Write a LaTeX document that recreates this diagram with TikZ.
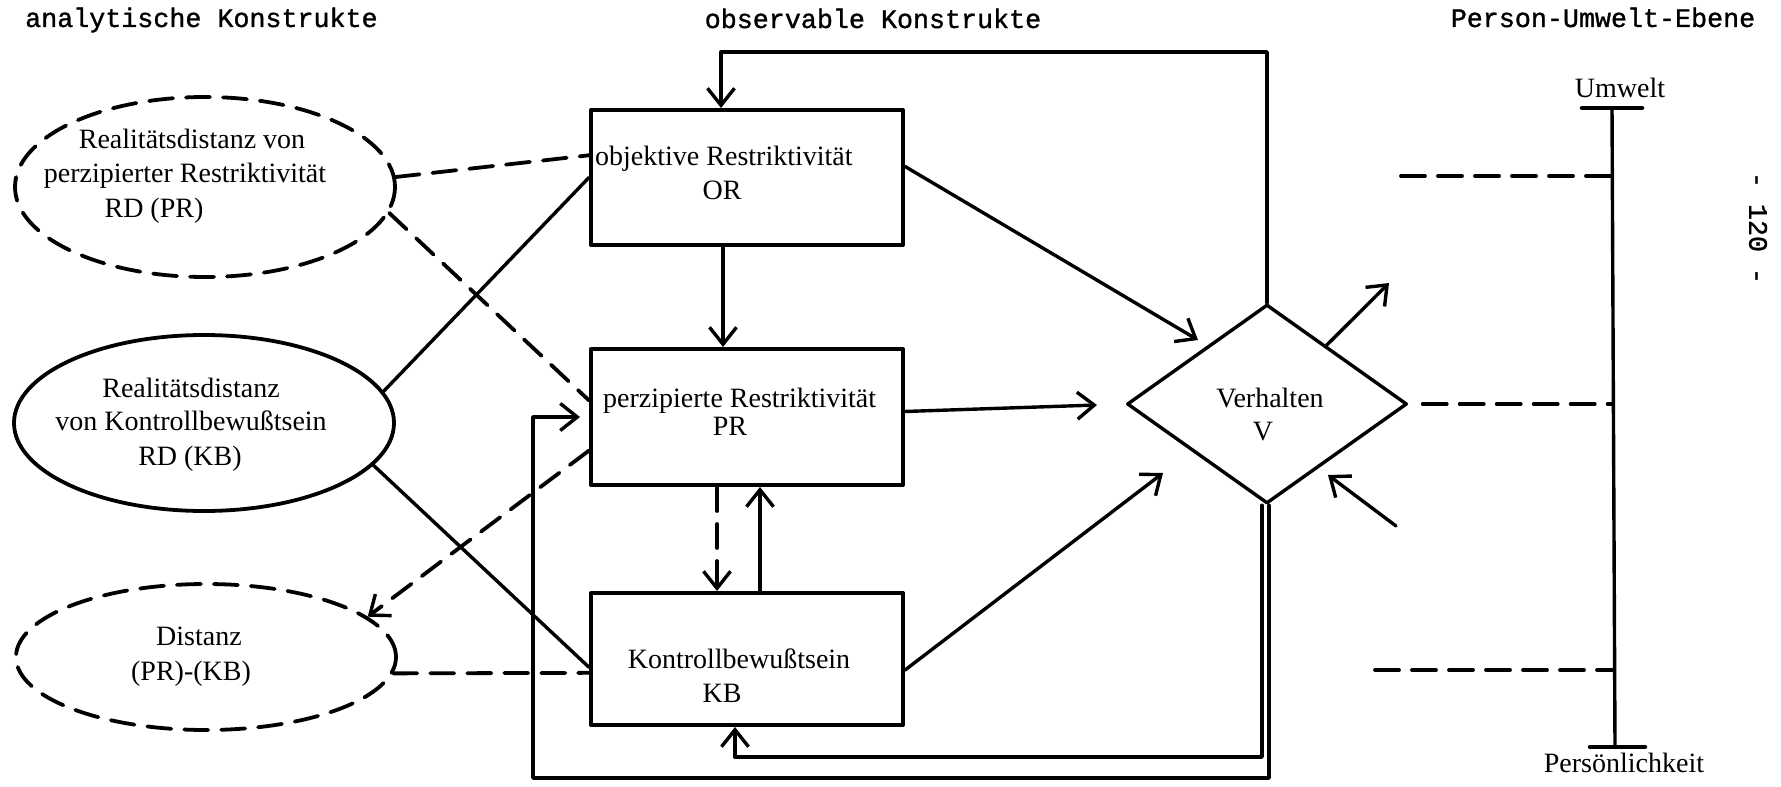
\documentclass[tikz,border=0pt]{standalone}
\usepackage{fontspec}
\setmainfont{Liberation Serif}
\newfontfamily\typewriter[FakeBold=1.2]{Liberation Mono}
\usetikzlibrary{shapes.geometric,arrows.meta,calc}

\begin{document}
\begin{tikzpicture}[x=1pt,y=-1pt,
  line cap=round, line join=round,
  conn/.style={line width=3.4pt},
  tipV/.tip={Straight Barb[length=17pt,width=27pt,line width=3.4pt]},
  arr/.style={conn, -tipV},
  dsh/.style={line width=3.8pt, dash pattern=on 24pt off 13pt},
  box/.style={draw, line width=4pt, rectangle, inner sep=0pt, minimum width=312pt},
  oval/.style={ellipse, draw, line width=3.8pt, inner sep=0pt, minimum width=380pt},
  lbl/.style={font=\fontsize{28}{34}\selectfont, inner sep=0pt, anchor=base},
  head/.style={font=\typewriter\fontsize{26.7}{30}\selectfont, inner sep=0pt, anchor=base},
]
\useasboundingbox (0,0) rectangle (1781,787);

% column headings
\node[head, anchor=base west] (hA) at (25,27) {analytische Konstrukte};
\node[head] (hO) at (873,28) {observable Konstrukte};
\node[head] (hP) at (1603,27) {Person-Umwelt-Ebene};
\node[head, anchor=center, rotate=-90] (pg) at (1758,228) {- 120 -};

% analytic constructs
\node[oval, dsh, minimum height=180pt] (E1) at (205,187) {};
\node[lbl] (e1a) at (192,148) {Realitätsdistanz von};
\node[lbl] (e1b) at (185,182) {perzipierter Restriktivität};
\node[lbl] (e1c) at (154,217) {RD (PR)};

\node[oval, minimum height=176pt] (E2) at (204,423) {};
\node[lbl] (e2a) at (191,397) {Realitätsdistanz};
\node[lbl] (e2b) at (191,430) {von Kontrollbewußtsein};
\node[lbl] (e2c) at (190,465) {RD (KB)};

\node[oval, dsh, minimum height=146pt] (E3) at (206,657) {};
\node[lbl] (e3a) at (199,645) {Distanz};
\node[lbl] (e3b) at (191,680) {(PR)-(KB)};

% observable constructs
\node[box, minimum height=135pt] (OR) at (747,177.5) {};
\node[lbl, anchor=base west] (ora) at (595,165) {objektive Restriktivität};
\node[lbl] (orb) at (722,199) {OR};

\node[box, minimum height=136pt] (PR) at (747,417) {};
\node[lbl, anchor=base west] (pra) at (603,407) {perzipierte Restriktivität};
\node[lbl] (prb) at (730,435) {PR};

\node[box, minimum height=132pt] (KB) at (747,659) {};
\node[lbl] (kba) at (739,668) {Kontrollbewußtsein};
\node[lbl] (kbb) at (722,702) {KB};

% behaviour
\node[diamond, draw, line width=3.4pt, inner sep=0pt,
      minimum width=280pt, minimum height=199pt] (V) at (1267,404) {};
\node[lbl] (va) at (1270,407) {Verhalten};
\node[lbl] (vb) at (1263,440) {V};

% links between the constructs
\coordinate (xOP) at (723,0);
\draw[arr] (xOP |- OR.south) -- (xOP |- PR.north);
\coordinate (xPKd) at (717,0);
\coordinate (xPKs) at (760,0);
\draw[arr, dsh] (xPKd |- PR.south) -- (xPKd |- KB.north);
\draw[arr] (xPKs |- KB.north) -- (xPKs |- PR.south);

\coordinate (tOV) at (1198,340);
\draw[arr] (OR.4) -- (tOV);
\coordinate (tPV) at (1097,405);
\draw[arr] (PR.2) -- (tPV);
\coordinate (tKV) at (1163,473);
\draw[arr] (KB.-4) -- (tKV);

% feedback loops of behaviour
\coordinate (fbT) at (721,52);
\draw[arr] (V.north) |- (fbT) -- (fbT |- OR.north);
\coordinate (fbK) at (735,757);
\draw[arr] ([xshift=-5pt]V.south) |- (fbK) -- (fbK |- KB.south);
\coordinate (fbP) at (533,778);
\draw[arr, shorten >=9pt] ([xshift=2pt]V.south) |- (fbP) |- (PR.west);

\coordinate (tOut) at (1389,283);
\draw[arr] ($(V.north)!0.42!(V.east)$) -- (tOut);
\coordinate (sIn) at (1396,526);
\coordinate (tIn) at (1328,475);
\draw[arr] (sIn) -- (tIn);

% analytic to observable
\draw[dsh] (E1.3) -- (OR.172);
\draw[dsh] (E1.-8) -- (PR.174);
\draw[dsh, -tipV] (PR.-168) -- (E3.14);
\draw[conn] (E2.10) -- (OR.west);
\draw[conn] (E2.-14) -- (KB.-177);
\draw[dsh] (E3.-5) -- (KB.-175);

% person-environment scale
\coordinate (sTop) at (1612,108);
\coordinate (sBot) at (1615,747);
\draw[conn] (sTop) -- (sBot);
\draw[line width=4.5pt] ([xshift=-30pt]sTop) -- ([xshift=30pt]sTop);
\draw[line width=4.5pt] ([xshift=-25pt]sBot) -- ([xshift=30pt]sBot);
\node[lbl] (uw) at (1620,97) {Umwelt};
\node[lbl] (pk) at (1624,772) {Persönlichkeit};
\coordinate (d1) at (1401,176);
\draw[dsh] (d1) -- (d1 -| sTop);
\draw[dsh] ([xshift=14pt]V.east) -- (V.east -| sTop);
\coordinate (d3) at (1375,670);
\draw[dsh] (d3) -- (d3 -| sTop);
\end{tikzpicture}
\end{document}
